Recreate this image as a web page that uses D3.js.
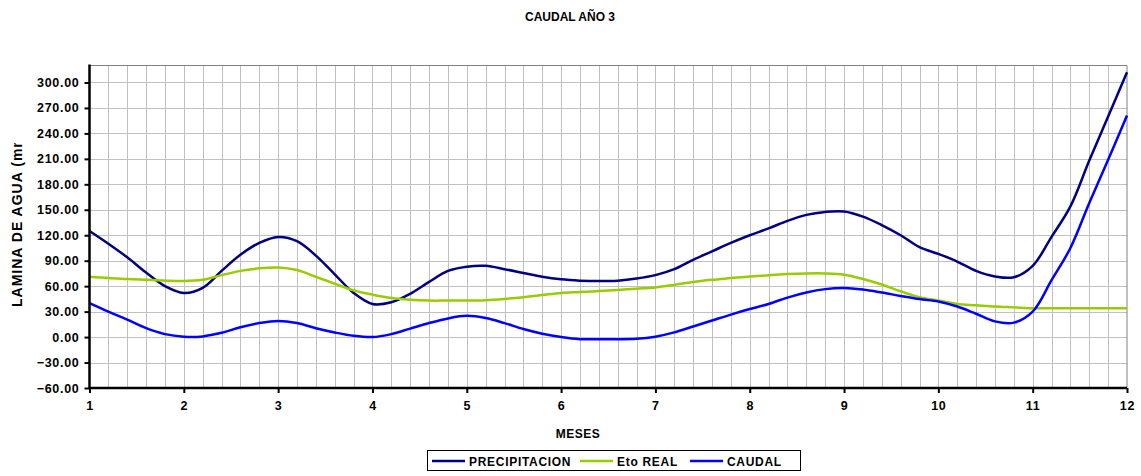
<!DOCTYPE html>
<html>
  <head>
    <meta charset="utf-8">
    <title>Caudal año 3</title>
    <script src="https://d3js.org/d3.v7.min.js"></script>
    <style>
      body { margin: 0; background: #fff; }
      text { font-family: "Liberation Sans", Arial, sans-serif; font-weight: bold; fill: #000; }
    </style>
  </head>
  <body>
    <script>
      var months = [1.0, 1.2, 1.4, 1.6, 1.8, 2.0, 2.2, 2.4, 2.6, 2.8, 3.0, 3.2, 3.4, 3.6, 3.8,
        4.0, 4.2, 4.4, 4.6, 4.8, 5.0, 5.2, 5.4, 5.6, 5.8, 6.0, 6.2, 6.4, 6.6, 6.8,
        7.0, 7.2, 7.4, 7.6, 7.8, 8.0, 8.2, 8.4, 8.6, 8.8, 9.0, 9.2, 9.4, 9.6, 9.8,
        10.0, 10.2, 10.4, 10.6, 10.8, 11.0, 11.2, 11.4, 11.6, 11.8, 12.0];

      var precipitacion = [125, 110, 94, 76, 60, 52, 58, 78, 97, 111, 118, 113, 96, 74, 52,
        39, 41, 51, 65, 78, 83, 84, 80, 75.5, 71, 68, 66.5, 66, 66.5, 69,
        73, 80, 91, 101, 111, 120, 128, 137, 144, 147.5, 148, 142, 132, 120, 106,
        98, 89, 78, 71.5, 70.5, 84, 118, 154, 208, 260, 312];

      var etoReal = [71, 69.5, 68.5, 67.5, 66.5, 66, 67.5, 73, 78, 81, 82, 79, 71, 63, 55,
        50, 46, 44, 43, 43, 43, 43.5, 45, 47, 49.5, 52, 53, 54.2, 55.5, 57,
        58.5, 61.5, 65, 67.5, 69.5, 71.5, 72.8, 74.2, 75, 75, 73.5, 68.5, 62, 54, 47,
        43, 39, 37.5, 36, 35, 34, 34, 34, 34, 34, 34];

      var caudal = [40, 30, 20.5, 10.5, 3.5, 0.5, 0.8, 5, 11.5, 16.5, 19, 16.5, 10.5, 5.5, 1.5,
        0, 3.5, 10, 16.5, 22, 25, 22.5, 16.5, 9.5, 4, 0, -2.5, -2.5, -2.5, -2,
        0.5, 5.5, 12.5, 19.5, 26.5, 33, 39, 46.5, 52.5, 56.5, 57.8, 56, 52.5, 48.5, 44.8,
        42, 36, 27.5, 18.5, 17, 30, 67, 105, 158, 209, 261];

      var xTicks = [1, 2, 3, 4, 5, 6, 7, 8, 9, 10, 11, 12];
      var yTicks = [-60, -30, 0, 30, 60, 90, 120, 150, 180, 210, 240, 270, 300];
      var seriesNames = ["PRECIPITACION", "Eto REAL", "CAUDAL"];
      var seriesColors = ["#000080", "#99cc00", "#0000ff"];

      var width = 1141, height = 476;
      var plotLeft = 89.5, plotRight = 1127, plotTop = 65.5, plotBottom = 388;

      var svg = d3.select("body").append("svg")
        .attr("width", width)
        .attr("height", height);

      var x = d3.scaleLinear().domain([1, 12]).range([plotLeft, plotRight]);
      var y = d3.scaleLinear().domain([-60, 320]).range([plotBottom, plotTop]);

      // title
      svg.append("text")
        .attr("x", 570).attr("y", 21)
        .attr("text-anchor", "middle")
        .style("font-size", "12px")
        .text("CAUDAL AÑO 3");

      // vertical minor gridlines every 0.2 month
      var grid = svg.append("g").attr("class", "grid");
      grid.selectAll("line.v")
        .data(months.slice(1, -1))
        .enter().append("line")
          .attr("x1", function(d) { return Math.round(x(d)) + 0.5; })
          .attr("x2", function(d) { return Math.round(x(d)) + 0.5; })
          .attr("y1", plotTop).attr("y2", plotBottom)
          .attr("stroke", "#c0c0c0");

      grid.selectAll("line.h")
        .data(yTicks.slice(1))
        .enter().append("line")
          .attr("x1", plotLeft).attr("x2", plotRight)
          .attr("y1", function(d) { return Math.round(y(d)) + 0.5; })
          .attr("y2", function(d) { return Math.round(y(d)) + 0.5; })
          .attr("stroke", "#c0c0c0");

      // plot border top / right
      svg.append("path")
        .attr("d", "M" + plotLeft + "," + plotTop + "H" + plotRight + "V" + plotBottom)
        .attr("fill", "none")
        .attr("stroke", "#808080");

      // series lines
      var line = d3.line()
        .x(function(d) { return x(d[0]); })
        .y(function(d) { return y(d[1]); })
        .curve(d3.curveCatmullRom.alpha(0.5));

      [precipitacion, etoReal, caudal].forEach(function(vals, i) {
        svg.append("path")
          .datum(months.map(function(m, j) { return [m, vals[j]]; }))
          .attr("fill", "none")
          .attr("stroke", seriesColors[i])
          .attr("stroke-width", 2.5)
          .attr("stroke-linejoin", "round")
          .attr("d", line);
      });

      // axes
      var yAxis = svg.append("g")
        .attr("transform", "translate(" + plotLeft + ",0)")
        .call(d3.axisLeft(y).tickValues(yTicks).tickFormat(d3.format(".2f")).tickSize(5).tickPadding(5));

      var xAxis = svg.append("g")
        .attr("transform", "translate(0," + plotBottom + ")")
        .call(d3.axisBottom(x).tickValues(xTicks).tickFormat(d3.format("d")).tickSize(5).tickPadding(8));

      [yAxis, xAxis].forEach(function(ax) {
        ax.select(".domain").attr("stroke", "#000").attr("stroke-width", 2.5);
        ax.selectAll(".tick line").attr("stroke", "#000").attr("stroke-width", 2);
        ax.selectAll(".tick text")
          .style("font-size", "12.5px")
          .style("letter-spacing", "0.7px")
          .style("font-family", "'Liberation Sans', Arial, sans-serif")
          .style("font-weight", "bold");
      });
      yAxis.select(".domain").attr("d", "M0," + (plotTop - 1) + "V" + plotBottom);
      xAxis.select(".domain").attr("d", "M" + plotLeft + ",0H" + plotRight);

      // y axis title, cut off at the top as in the original
      svg.append("clipPath").attr("id", "ylabclip")
        .append("rect").attr("x", 0).attr("y", 143).attr("width", 40).attr("height", 200);
      svg.append("g")
        .attr("clip-path", "url(#ylabclip)")
        .append("text")
          .attr("transform", "translate(22,307) rotate(-90)")
          .attr("text-anchor", "start")
          .style("font-size", "14px")
          .style("letter-spacing", "1px")
          .text("LAMINA DE AGUA (mm)");

      // x axis title
      svg.append("text")
        .attr("x", 578).attr("y", 438)
        .attr("text-anchor", "middle")
        .style("font-size", "12px")
        .style("letter-spacing", "0.5px")
        .text("MESES");

      // legend
      var legend = svg.append("g");
      legend.append("rect")
        .attr("x", 427.5).attr("y", 450.5)
        .attr("width", 373).attr("height", 20)
        .attr("fill", "#fff").attr("stroke", "#000");

      var legendX = [432, 580, 690];
      seriesNames.forEach(function(name, i) {
        legend.append("line")
          .attr("x1", legendX[i]).attr("x2", legendX[i] + 33)
          .attr("y1", 461).attr("y2", 461)
          .attr("stroke", seriesColors[i])
          .attr("stroke-width", 2.5);
        legend.append("text")
          .attr("x", legendX[i] + 37).attr("y", 465.5)
          .style("font-size", "12px")
          .style("letter-spacing", "0.7px")
          .text(name);
      });
    </script>
  </body>
</html>
